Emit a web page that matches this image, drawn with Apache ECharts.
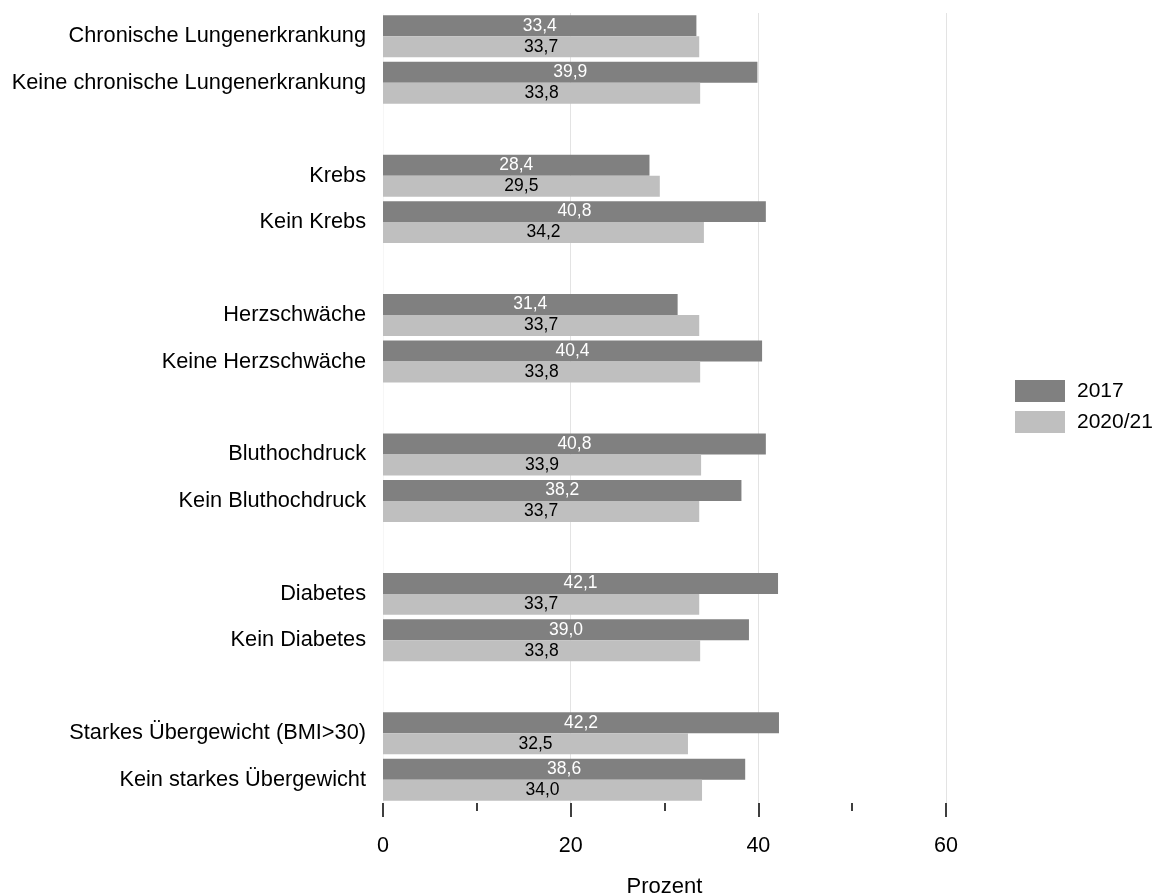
<!DOCTYPE html>
<html>
<head>
<meta charset="utf-8">
<script src="https://cdn.jsdelivr.net/npm/echarts@6/dist/echarts.min.js"></script>
<style>
html,body{margin:0;padding:0;background:#fff;}
#chart{width:1156px;height:893px;}
</style>
</head>
<body>
<div id="chart"></div>
<script>
const categories = [
  'Chronische Lungenerkrankung', 'Keine chronische Lungenerkrankung',
  'Krebs', 'Kein Krebs',
  'Herzschwäche', 'Keine Herzschwäche',
  'Bluthochdruck', 'Kein Bluthochdruck',
  'Diabetes', 'Kein Diabetes',
  'Starkes Übergewicht (BMI>30)', 'Kein starkes Übergewicht'
];
const values2017 = [33.4, 39.9, 28.4, 40.8, 31.4, 40.4, 40.8, 38.2, 42.1, 39.0, 42.2, 38.6];
const values2020 = [33.7, 33.8, 29.5, 34.2, 33.7, 33.8, 33.9, 33.7, 33.7, 33.8, 32.5, 34.0];
const seriesNames = ['2017', '2020/21'];
const xTicks = [0, 20, 40, 60];

// build axis with an empty spacer slot between each pair of categories
const axisCats = [];
const d2017 = [];
const d2020 = [];
categories.forEach((c, i) => {
  axisCats.push(c);
  d2017.push(values2017[i]);
  d2020.push(values2020[i]);
  if (i % 2 === 1 && i < categories.length - 1) {
    axisCats.push(' '.repeat(i + 1));
    d2017.push('-');
    d2020.push('-');
  }
});

const FONT = 'Liberation Sans, Arial, Helvetica, sans-serif';
const fmt = p => Number(p.value).toFixed(1).replace('.', ',');

const chart = echarts.init(document.getElementById('chart'), null, {renderer: 'canvas'});
chart.setOption({
  animation: false,
  backgroundColor: '#ffffff',
  textStyle: {fontFamily: FONT},
  grid: {left: 383, width: 563, top: 13, height: 790, containLabel: false, outerBoundsMode: 'none'},
  legend: {
    orient: 'vertical',
    left: 1015,
    top: 380,
    padding: 0,
    itemWidth: 50,
    itemHeight: 22,
    itemGap: 9,
    icon: 'rect',
    data: seriesNames,
    textStyle: {fontFamily: FONT, fontSize: 21, color: '#000', padding: [0, 0, 0, 7]}
  },
  xAxis: {
    type: 'value',
    min: xTicks[0],
    max: xTicks[xTicks.length - 1],
    interval: 20,
    name: 'Prozent',
    nameLocation: 'middle',
    nameGap: 73,
    nameTextStyle: {fontFamily: FONT, fontSize: 22, color: '#000'},
    axisLine: {show: false},
    axisTick: {show: true, length: 14, lineStyle: {color: '#000', width: 1.5}},
    minorTick: {show: true, splitNumber: 2, length: 8, lineStyle: {color: '#000', width: 1.5}},
    minorSplitLine: {show: false},
    axisLabel: {fontFamily: FONT, fontSize: 21.5, color: '#000', margin: 32},
    splitLine: {show: true, lineStyle: {color: ['#f6f6f6', '#e3e3e3', '#e3e3e3', '#e3e3e3'], width: 1}}
  },
  yAxis: {
    type: 'category',
    inverse: true,
    data: axisCats,
    axisLine: {show: false},
    axisTick: {show: false},
    splitLine: {show: false},
    axisLabel: {fontFamily: FONT, fontSize: 21.75, color: '#000', margin: 17}
  },
  series: [
    {
      name: seriesNames[0],
      type: 'bar',
      data: d2017,
      barGap: '0%',
      barCategoryGap: '9.7%',
      itemStyle: {color: '#808080'},
      label: {show: true, position: 'inside', formatter: fmt, color: '#ffffff', fontFamily: FONT, fontSize: 17.5}
    },
    {
      name: seriesNames[1],
      type: 'bar',
      data: d2020,
      barGap: '0%',
      barCategoryGap: '9.7%',
      itemStyle: {color: '#bfbfbf'},
      label: {show: true, position: 'inside', formatter: fmt, color: '#000000', fontFamily: FONT, fontSize: 17.5}
    }
  ]
});
</script>
</body>
</html>
